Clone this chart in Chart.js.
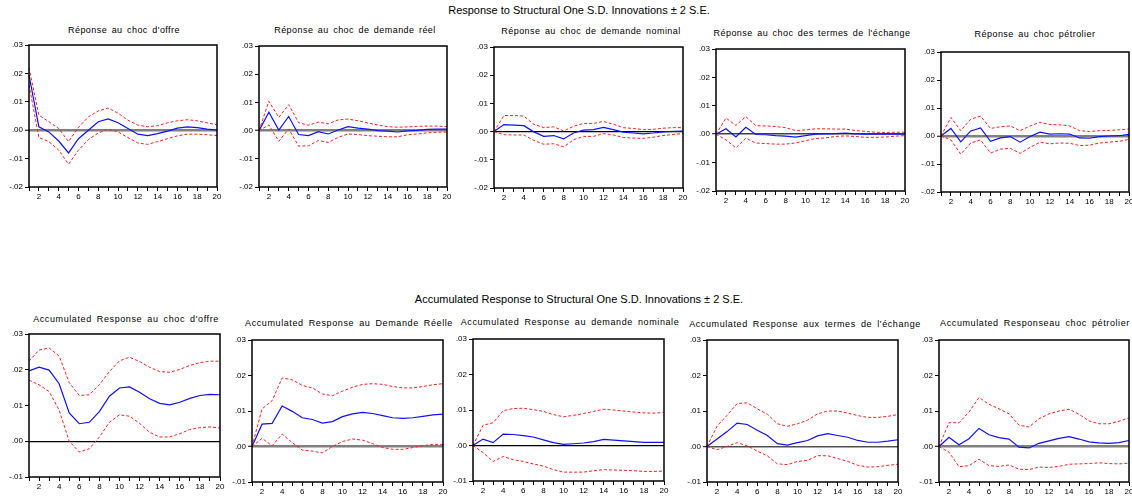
<!DOCTYPE html>
<html><head><meta charset="utf-8">
<script src="https://cdn.jsdelivr.net/npm/chart.js@4"></script>
<style>
body{margin:0;background:#fff;width:1132px;height:499px;position:relative;overflow:hidden;font-family:"Liberation Sans",Arial,sans-serif}
.t{position:absolute;transform:translateX(-50%);white-space:nowrap;color:#000;line-height:1}
.main{font-size:11px;letter-spacing:0px}
.sub{font-size:9px;letter-spacing:0.45px;word-spacing:1.5px}
.acc{letter-spacing:0.6px;word-spacing:2px}
.p{position:absolute}
</style></head><body>
<script>
// horizons
const periods = [1,2,3,4,5,6,7,8,9,10,11,12,13,14,15,16,17,18,19,20];

// Réponses (impulse responses) : centre, borne haute, borne basse
const offre = [0.0194,0.0012,-0.0006,-0.0038,-0.0080,-0.0030,0.0000,0.0030,0.0040,0.0026,0.0006,-0.0014,-0.0019,-0.0012,-0.0003,0.0007,0.0012,0.0009,0.0004,0.0000];
const offreUp = [0.0220,0.0053,0.0030,0.0006,-0.0040,0.0010,0.0047,0.0068,0.0078,0.0060,0.0035,0.0018,0.0012,0.0016,0.0026,0.0033,0.0037,0.0033,0.0026,0.0019];
const offreLo = [0.0160,-0.0026,-0.0040,-0.0070,-0.0120,-0.0070,-0.0033,-0.0010,0.0004,-0.0006,-0.0026,-0.0045,-0.0050,-0.0040,-0.0030,-0.0020,-0.0014,-0.0014,-0.0016,-0.0019];

const demReel = [0.0000,0.0065,0.0002,0.0050,-0.0014,-0.0018,-0.0004,-0.0012,0.0002,0.0014,0.0009,0.0005,0.0000,-0.0002,-0.0005,-0.0001,0.0001,0.0004,0.0005,0.0005];
const demReelUp = [0.0000,0.0104,0.0047,0.0092,0.0028,0.0019,0.0030,0.0024,0.0038,0.0041,0.0035,0.0027,0.0020,0.0014,0.0012,0.0013,0.0015,0.0016,0.0016,0.0014];
const demReelLo = [0.0000,0.0020,-0.0038,0.0006,-0.0055,-0.0054,-0.0035,-0.0042,-0.0024,-0.0012,-0.0014,-0.0018,-0.0020,-0.0022,-0.0022,-0.0015,-0.0012,-0.0008,-0.0006,-0.0005];

const demNom = [0.0000,0.0025,0.0023,0.0021,-0.0001,-0.0017,-0.0014,-0.0026,-0.0005,0.0005,0.0007,0.0015,0.0007,-0.0002,-0.0005,-0.0008,-0.0005,-0.0001,0.0001,0.0002];
const demNomUp = [0.0000,0.0057,0.0057,0.0055,0.0026,0.0014,0.0017,0.0002,0.0019,0.0029,0.0029,0.0036,0.0026,0.0014,0.0011,0.0007,0.0008,0.0012,0.0014,0.0014];
const demNomLo = [0.0000,-0.0011,-0.0012,-0.0012,-0.0031,-0.0045,-0.0043,-0.0054,-0.0029,-0.0017,-0.0017,-0.0007,-0.0012,-0.0021,-0.0023,-0.0024,-0.0020,-0.0014,-0.0010,-0.0007];

const termes = [0.0000,0.0019,-0.0010,0.0024,-0.0001,-0.0002,-0.0005,-0.0007,-0.0010,-0.0005,0.0000,0.0001,0.0002,0.0004,0.0001,0.0000,0.0000,0.0000,0.0000,0.0000];
const termesUp = [0.0000,0.0057,0.0031,0.0062,0.0030,0.0029,0.0027,0.0023,0.0013,0.0015,0.0019,0.0019,0.0018,0.0018,0.0013,0.0010,0.0007,0.0006,0.0007,0.0007];
const termesLo = [0.0000,-0.0020,-0.0048,-0.0014,-0.0031,-0.0033,-0.0035,-0.0035,-0.0031,-0.0023,-0.0015,-0.0013,-0.0008,-0.0006,-0.0008,-0.0011,-0.0011,-0.0010,-0.0007,-0.0005];

const petrole = [0.0000,0.0027,-0.0021,0.0018,0.0029,-0.0019,-0.0007,-0.0002,-0.0022,-0.0002,0.0014,0.0007,0.0008,0.0007,-0.0007,-0.0008,-0.0002,0.0000,0.0001,0.0006];
const petroleUp = [0.0000,0.0066,0.0019,0.0060,0.0071,0.0027,0.0033,0.0036,0.0019,0.0036,0.0049,0.0041,0.0040,0.0036,0.0019,0.0016,0.0019,0.0020,0.0022,0.0025];
const petroleLo = [0.0000,-0.0014,-0.0065,-0.0025,-0.0014,-0.0061,-0.0047,-0.0044,-0.0062,-0.0041,-0.0022,-0.0028,-0.0025,-0.0026,-0.0034,-0.0033,-0.0025,-0.0022,-0.0019,-0.0012];

// Réponses cumulées
const accOffre = [0.0197,0.0207,0.0199,0.0161,0.0079,0.0049,0.0053,0.0083,0.0126,0.0149,0.0152,0.0137,0.0119,0.0106,0.0102,0.0109,0.0120,0.0128,0.0131,0.0130];
const accOffreUp = [0.0224,0.0255,0.0261,0.0238,0.0164,0.0128,0.0130,0.0158,0.0195,0.0225,0.0235,0.0223,0.0207,0.0195,0.0193,0.0201,0.0212,0.0220,0.0224,0.0224];
const accOffreLo = [0.0171,0.0158,0.0139,0.0087,0.0000,-0.0030,-0.0021,0.0012,0.0053,0.0074,0.0070,0.0050,0.0025,0.0012,0.0012,0.0021,0.0033,0.0038,0.0040,0.0037];

const accReel = [0.0000,0.0063,0.0065,0.0114,0.0099,0.0081,0.0076,0.0066,0.0070,0.0084,0.0092,0.0096,0.0093,0.0087,0.0081,0.0079,0.0081,0.0085,0.0089,0.0091];
const accReelUp = [0.0000,0.0106,0.0129,0.0193,0.0188,0.0172,0.0165,0.0148,0.0143,0.0156,0.0167,0.0175,0.0177,0.0175,0.0169,0.0165,0.0165,0.0169,0.0174,0.0177];
const accReelLo = [0.0000,0.0023,0.0002,0.0035,0.0011,-0.0010,-0.0013,-0.0018,0.0000,0.0014,0.0021,0.0018,0.0008,-0.0003,-0.0008,-0.0008,-0.0003,0.0002,0.0006,0.0006];

const accNom = [0.0000,0.0018,0.0008,0.0032,0.0031,0.0028,0.0024,0.0016,0.0008,0.0003,0.0005,0.0007,0.0011,0.0017,0.0015,0.0013,0.0011,0.0009,0.0009,0.0009];
const accNomUp = [0.0000,0.0057,0.0064,0.0098,0.0104,0.0105,0.0101,0.0096,0.0087,0.0081,0.0085,0.0090,0.0096,0.0102,0.0100,0.0097,0.0094,0.0092,0.0091,0.0093];
const accNomLo = [0.0000,-0.0020,-0.0045,-0.0031,-0.0040,-0.0045,-0.0052,-0.0058,-0.0068,-0.0075,-0.0075,-0.0075,-0.0071,-0.0068,-0.0069,-0.0070,-0.0071,-0.0073,-0.0073,-0.0072];

const accTermes = [0.0000,0.0021,0.0042,0.0066,0.0062,0.0046,0.0031,0.0008,0.0004,0.0011,0.0017,0.0030,0.0036,0.0031,0.0026,0.0017,0.0012,0.0012,0.0015,0.0019];
const accTermesUp = [0.0000,0.0057,0.0088,0.0121,0.0123,0.0106,0.0091,0.0064,0.0057,0.0064,0.0074,0.0092,0.0100,0.0100,0.0094,0.0087,0.0082,0.0082,0.0085,0.0090];
const accTermesLo = [0.0000,-0.0009,0.0000,0.0011,0.0002,-0.0013,-0.0026,-0.0049,-0.0051,-0.0042,-0.0039,-0.0026,-0.0026,-0.0034,-0.0042,-0.0053,-0.0058,-0.0057,-0.0053,-0.0050];

const accPetrole = [0.0000,0.0026,0.0005,0.0022,0.0051,0.0033,0.0025,0.0021,-0.0002,-0.0004,0.0009,0.0016,0.0023,0.0028,0.0021,0.0013,0.0010,0.0009,0.0011,0.0017];
const accPetroleUp = [0.0000,0.0067,0.0067,0.0097,0.0138,0.0119,0.0106,0.0092,0.0060,0.0055,0.0078,0.0092,0.0100,0.0105,0.0091,0.0072,0.0064,0.0064,0.0071,0.0081];
const accPetroleLo = [0.0000,-0.0016,-0.0057,-0.0054,-0.0036,-0.0054,-0.0056,-0.0052,-0.0064,-0.0065,-0.0058,-0.0059,-0.0056,-0.0050,-0.0049,-0.0048,-0.0046,-0.0048,-0.0049,-0.0047];

const mainTitles = ['Response to Structural One S.D. Innovations \u00b1 2 S.E.', 'Accumulated Response to Structural One S.D. Innovations \u00b1 2 S.E.'];
const panelTitles = ["Réponse au choc d'offre", 'Réponse au choc de demande réel', 'Réponse au choc de demande nominal', "Réponse au choc des termes de l'échange", 'Réponse au choc pétrolier',
  "Accumulated Response au choc d'offre", 'Accumulated Response au Demande Réelle', 'Accumulated Response au demande nominale', "Accumulated Response aux termes de l'échange", 'Accumulated Responseau choc pétrolier'];

const series = [
  [offre, offreUp, offreLo], [demReel, demReelUp, demReelLo], [demNom, demNomUp, demNomLo], [termes, termesUp, termesLo], [petrole, petroleUp, petroleLo],
  [accOffre, accOffreUp, accOffreLo], [accReel, accReelUp, accReelLo], [accNom, accNomUp, accNomLo], [accTermes, accTermesUp, accTermesLo], [accPetrole, accPetroleUp, accPetroleLo]
];

// layout of each panel: plot box L,R,T,B, title centre, zero line style
const boxes = [
  {L:29, R:217, T:45, B:187, tx:124, ty:31, min:-0.02, max:0.03, zc:'#808080', zw:2.5},
  {L:259, R:447, T:46, B:187, tx:355, ty:31, min:-0.02, max:0.03, zc:'#808080', zw:2.5},
  {L:494, R:683, T:47, B:188, tx:591, ty:32, min:-0.02, max:0.03, zc:'#000000', zw:1.2},
  {L:716, R:905, T:49, B:191, tx:812, ty:34, min:-0.02, max:0.03, zc:'#404040', zw:1.5},
  {L:941, R:1129, T:52, B:192, tx:1035, ty:35, min:-0.02, max:0.03, zc:'#808080', zw:2.5},
  {L:29, R:220, T:334, B:477, tx:126, ty:320, min:-0.01, max:0.03, zc:'#000000', zw:1.2},
  {L:252, R:443, T:340, B:482, tx:349, ty:324, min:-0.01, max:0.03, zc:'#808080', zw:2.5},
  {L:473, R:664, T:339, B:481, tx:570, ty:323, min:-0.01, max:0.03, zc:'#000000', zw:1.2},
  {L:707, R:898, T:340, B:482, tx:805, ty:325, min:-0.01, max:0.03, zc:'#505050', zw:1.4},
  {L:939, R:1129, T:340, B:482, tx:1035, ty:324, min:-0.01, max:0.03, zc:'#808080', zw:2.5}
];

function addText(txt, cls, x, y) {
  const d = document.createElement('div');
  d.className = 't ' + cls;
  d.textContent = txt;
  d.style.left = x + 'px';
  d.style.top = y + 'px';
  document.body.appendChild(d);
}

addText(mainTitles[0], 'main', 579, 5);
addText(mainTitles[1], 'main', 579, 294);

const frame = {
  id: 'frame',
  afterDatasetsDraw(chart) {
    const a = chart.chartArea, c = chart.ctx;
    c.save();
    c.strokeStyle = '#000';
    c.lineWidth = 1.5;
    c.strokeRect(a.left, a.top, a.right - a.left, a.bottom - a.top);
    c.restore();
  }
};

const tickFont = {family: '"Liberation Sans", Arial, sans-serif', size: 8};
const fmt = v => Math.abs(v) < 1e-9 ? '.00' : v.toFixed(2).replace('0.', '.');

boxes.forEach((b, i) => {
  addText(panelTitles[i], i < 5 ? 'sub' : 'sub acc', b.tx, b.ty - 5);
  const padL = 30, padT = 8, padR = 6, padB = 18;
  const w = b.R - b.L + padL + padR, h = b.B - b.T + padT + padB;
  const div = document.createElement('div');
  div.className = 'p';
  div.style.left = (b.L - padL) + 'px';
  div.style.top = (b.T - padT) + 'px';
  const cv = document.createElement('canvas');
  cv.width = w; cv.height = h;
  cv.style.width = w + 'px'; cv.style.height = h + 'px';
  div.appendChild(cv);
  document.body.appendChild(div);
  const [mid, up, lo] = series[i];
  new Chart(cv, {
    type: 'line',
    data: {
      labels: periods,
      datasets: [
        {data: up, borderColor: '#ff2020', borderDash: [3, 2], borderWidth: 1, pointRadius: 0},
        {data: lo, borderColor: '#ff2020', borderDash: [3, 2], borderWidth: 1, pointRadius: 0},
        {data: mid, borderColor: '#1010ff', borderWidth: 1.2, pointRadius: 0}
      ]
    },
    options: {
      responsive: false,
      animation: false,
      layout: {padding: {top: padT, right: padR, left: 0, bottom: 0}},
      plugins: {legend: {display: false}, tooltip: {enabled: false}},
      scales: {
        x: {
          offset: false,
          border: {display: false},
          grid: {offset: false, drawOnChartArea: false, tickLength: 4, color: '#000'},
          ticks: {autoSkip: false, maxRotation: 0, padding: 1, color: '#000', font: tickFont,
            callback: (v, k) => periods[k] % 2 === 0 ? String(periods[k]) : ''},
          afterFit: s => { s.height = padB; }
        },
        y: {
          min: b.min, max: b.max,
          border: {display: false},
          grid: {
            color: c => Math.abs(c.tick.value) < 1e-9 ? b.zc : 'rgba(0,0,0,0)',
            lineWidth: c => Math.abs(c.tick.value) < 1e-9 ? b.zw : 1,
            tickColor: '#000', tickWidth: 1, tickLength: 4
          },
          ticks: {stepSize: 0.01, padding: 2, color: '#000', font: tickFont, callback: v => fmt(v)},
          afterFit: s => { s.width = padL; }
        }
      }
    },
    plugins: [frame]
  });
});
</script>
</body></html>
